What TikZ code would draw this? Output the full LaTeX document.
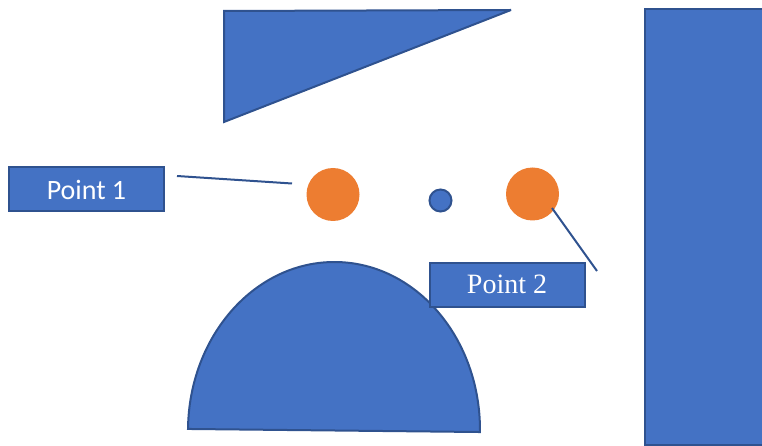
\documentclass[tikz,border=0pt]{standalone}
\usepackage{fontspec}
\setmainfont{Liberation Serif}
\newfontfamily\calibri{Carlito}
\definecolor{shapefill}{HTML}{4472C4}
\definecolor{shapeline}{HTML}{2F528F}
\definecolor{dotorange}{HTML}{ED7D31}
\begin{document}
\begin{tikzpicture}[x=1pt,y=1pt,
  blueshape/.style={fill=shapefill,draw=shapeline,line width=2pt,line join=miter,miter limit=3},
  labelbox/.style={blueshape,rectangle,minimum width=155pt,minimum height=44pt,inner sep=0pt,text=white,font=\fontsize{28}{30}\selectfont},
  dot/.style={circle,fill=dotorange,minimum size=53pt,inner sep=0pt},
  smalldot/.style={circle,fill=shapefill,draw=shapeline,line width=2pt,minimum size=22pt,inner sep=0pt},
  conn/.style={draw=shapeline,line width=2pt}]
\useasboundingbox (0,0) rectangle (762,-446);
% triangle
\filldraw[blueshape] (224,-11) -- (511,-10) -- (224,-122) -- cycle;
% right rectangle
\filldraw[blueshape] (645,-9) rectangle (766,-445);
% half ellipse
\coordinate (hc) at (334,-430.5);
\filldraw[blueshape,rotate around={-0.6:(hc)}] ([xshift=-146pt]hc) arc[start angle=180,end angle=0,x radius=146,y radius=168.5] -- cycle;
% circles
\node[dot] (o1) at (333,-194.5) {};
\node[smalldot] (s) at (440.5,-200.5) {};
\node[dot] (o2) at (532.5,-194) {};
% label boxes
\node[labelbox,font=\calibri\fontsize{28}{30}\selectfont] (p1) at (86.5,-189.5) {Point 1};
\node[labelbox] (p2) at (507,-284.5) {Point 2};
% connectors
\coordinate (l1a) at (177,-176);
\coordinate (l1b) at (292,-183.5);
\draw[conn] (l1a) -- (l1b);
\coordinate (l2a) at (552,-208);
\coordinate (l2b) at (597,-271);
\draw[conn] (l2a) -- (l2b);
\end{tikzpicture}
\end{document}
